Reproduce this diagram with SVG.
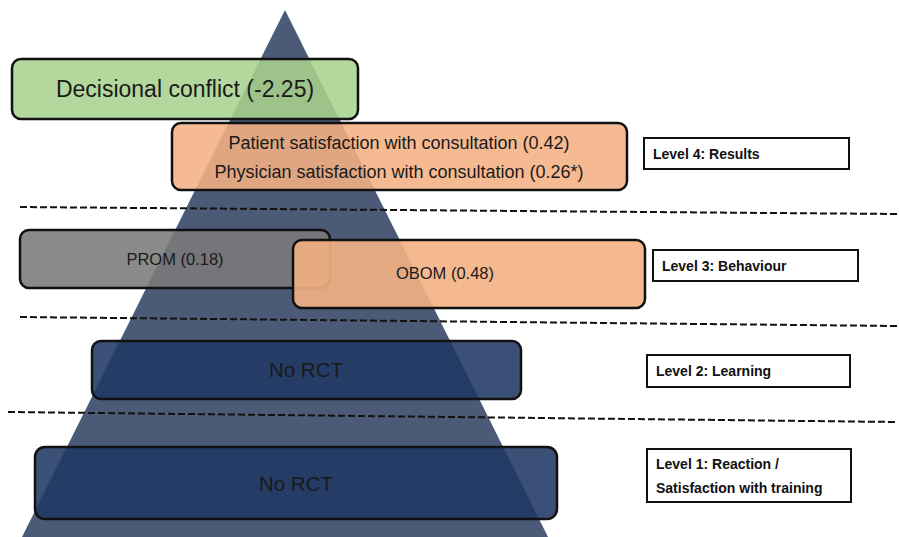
<svg xmlns="http://www.w3.org/2000/svg" width="899" height="537" viewBox="0 0 899 537">
<style>
.box{stroke:#111;stroke-width:2.5}
.lab{fill:#fff;stroke:#111;stroke-width:2}
.t{font-family:"Liberation Sans",Arial,sans-serif;fill:#1a1a1a;text-anchor:middle}
.lt{font-family:"Liberation Sans",Arial,sans-serif;font-weight:bold;font-size:14px;fill:#111}
.dash{stroke:#111;stroke-width:2;stroke-dasharray:7 3;fill:none}
</style>
<rect width="899" height="537" fill="#fff"/>
<g id="pyramid">
<polygon points="285,10 22,537 548,537" fill="#4b5b77"/>
</g>
<g id="connectors">
<line class="dash" x1="20" y1="207" x2="897" y2="214"/>
<line class="dash" x1="20" y1="317" x2="897" y2="326"/>
<line class="dash" x1="8" y1="412" x2="897" y2="422"/>
</g>
<g id="decisional">
<rect class="box" x="12" y="59" width="346" height="60" rx="9" fill="#a9d18e" fill-opacity="0.88"/>
<text class="t" x="185" y="97" font-size="23px">Decisional conflict (-2.25)</text>
</g>
<g id="satisfaction">
<rect class="box" x="172" y="123" width="455" height="67" rx="9" fill="#f4b183" fill-opacity="0.88"/>
<text class="t" x="399" y="149" font-size="18px">Patient satisfaction with consultation (0.42)</text>
<text class="t" x="399" y="178" font-size="18px">Physician satisfaction with consultation (0.26*)</text>
</g>
<g id="level4">
<rect class="lab" x="644" y="138" width="205" height="31"/>
<text class="lt" x="653" y="159">Level 4: Results</text>
</g>
<g id="prom">
<rect class="box" x="20" y="230" width="310" height="58" rx="9" fill="#7a7a7a" fill-opacity="0.88"/>
<text class="t" x="175" y="265" font-size="16.5px">PROM (0.18)</text>
</g>
<g id="obom">
<rect class="box" x="293" y="240" width="352" height="68" rx="9" fill="#f4b183" fill-opacity="0.9"/>
<text class="t" x="445" y="279" font-size="16.5px">OBOM (0.48)</text>
</g>
<g id="level3">
<rect class="lab" x="653" y="250" width="205" height="31"/>
<text class="lt" x="662" y="271">Level 3: Behaviour</text>
</g>
<g id="norct2">
<rect class="box" x="92" y="341" width="429" height="58" rx="9" fill="#203864" fill-opacity="0.88"/>
<text class="t" x="306" y="377" font-size="20.5px">No RCT</text>
</g>
<g id="level2">
<rect class="lab" x="647" y="355" width="203" height="32"/>
<text class="lt" x="656" y="376">Level 2: Learning</text>
</g>
<g id="norct1">
<rect class="box" x="35" y="447" width="522" height="72" rx="10" fill="#203864" fill-opacity="0.88"/>
<text class="t" x="296" y="491" font-size="20.5px">No RCT</text>
</g>
<g id="level1">
<rect class="lab" x="647" y="449" width="204" height="53"/>
<text class="lt" x="656" y="469">Level 1: Reaction /</text>
<text class="lt" x="656" y="493">Satisfaction with training</text>
</g>
</svg>
